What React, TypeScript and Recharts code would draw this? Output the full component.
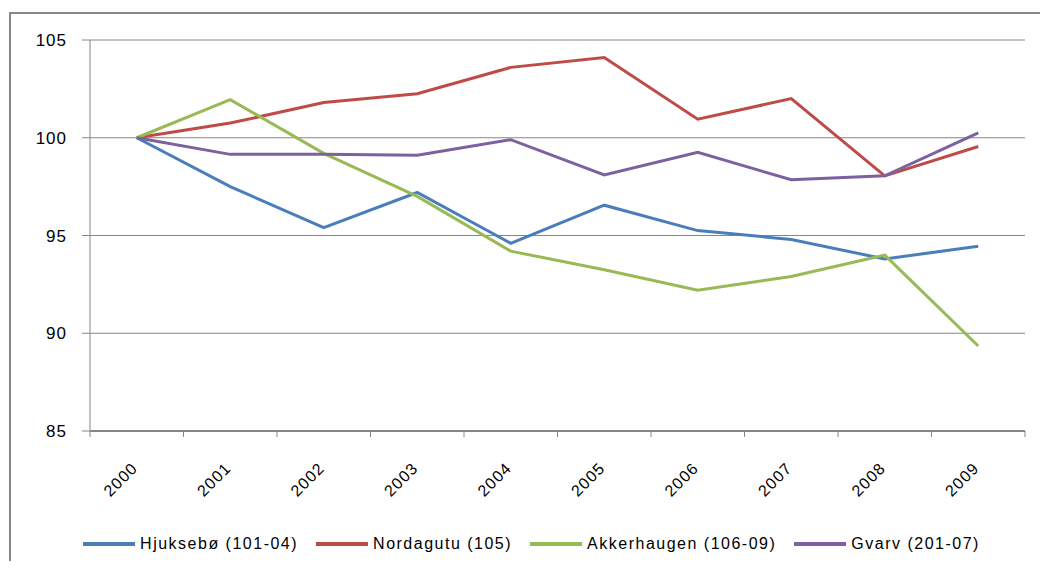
import React from "react";
import {
  LineChart,
  Line,
  XAxis,
  YAxis,
  CartesianGrid,
  Legend,
} from "recharts";

const years = ["2000", "2001", "2002", "2003", "2004", "2005", "2006", "2007", "2008", "2009"];
const hjuksebo = [100, 97.5, 95.4, 97.2, 94.6, 96.55, 95.25, 94.8, 93.8, 94.45];
const nordagutu = [100, 100.75, 101.8, 102.25, 103.6, 104.1, 100.95, 102.0, 98.05, 99.55];
const akkerhaugen = [100, 101.95, 99.2, 97.0, 94.2, 93.25, 92.2, 92.9, 94.0, 89.35];
const gvarv = [100, 99.15, 99.15, 99.1, 99.9, 98.1, 99.25, 97.85, 98.05, 100.25];
const yTicks = [85, 90, 95, 100, 105];

const series = [
  { key: "hjuksebo", name: "Hjuksebø (101-04)", color: "#4A7EBB", values: hjuksebo },
  { key: "nordagutu", name: "Nordagutu (105)", color: "#BE4B48", values: nordagutu },
  { key: "akkerhaugen", name: "Akkerhaugen (106-09)", color: "#98B954", values: akkerhaugen },
  { key: "gvarv", name: "Gvarv (201-07)", color: "#7D60A0", values: gvarv },
];

const data = years.map((year, i) => {
  const row: Record<string, string | number> = { year };
  series.forEach((s) => {
    row[s.key] = s.values[i];
  });
  return row;
});

const FONT = "'Liberation Sans', Arial, sans-serif";
const GRAY = "#868686";

// label rotated -45deg plus the little tick marks at the band edges
const YearTick = (props: any) => {
  const { x, y, payload, index, visibleTicksCount } = props;
  const half = payload.offset || 0;
  const last = index === (visibleTicksCount ?? years.length) - 1;
  return (
    <g>
      <line x1={x - half} y1={y} x2={x - half} y2={y + 6} stroke={GRAY} />
      {last && <line x1={x + half} y1={y} x2={x + half} y2={y + 6} stroke={GRAY} />}
      <g transform={`translate(${x + 2},${y + 38})`}>
        <text
          textAnchor="end"
          transform="rotate(-45)"
          fontSize={16}
          fontFamily={FONT}
          letterSpacing={1.2}
          fill="#000"
        >
          {payload.value}
        </text>
      </g>
    </g>
  );
};

const LegendRow = () => (
  <div
    style={{
      display: "flex",
      justifyContent: "center",
      alignItems: "center",
      gap: 18,
      fontFamily: FONT,
      fontSize: 16,
      letterSpacing: 1.5,
      color: "#000",
      height: 24,
      paddingLeft: 38,
    }}
  >
    {series.map((s) => (
      <div key={s.key} style={{ display: "flex", alignItems: "center", gap: 5 }}>
        <span style={{ display: "inline-block", width: 52, height: 4, background: s.color }} />
        <span>{s.name}</span>
      </div>
    ))}
  </div>
);

export default function App() {
  return (
    <div
      style={{
        position: "relative",
        width: 1048,
        height: 569,
        margin: -8,
        overflow: "hidden",
        background: "#fff",
      }}
    >
      <div
        style={{
          position: "absolute",
          left: 9,
          top: 12,
          width: 1100,
          height: 620,
          border: `2px solid ${GRAY}`,
          boxSizing: "border-box",
        }}
      />
      <LineChart
        width={1048}
        height={569}
        data={data}
        margin={{ top: 40, right: 23, left: 0, bottom: 13 }}
        style={{ position: "absolute", left: 0, top: 0 }}
      >
        <CartesianGrid vertical={false} stroke={GRAY} horizontalValues={yTicks} />
        <XAxis
          dataKey="year"
          type="category"
          scale="band"
          interval={0}
          axisLine={{ stroke: GRAY, strokeWidth: 2 }}
          tickLine={false}
          tickSize={0}
          tickMargin={0}
          height={101}
          tick={<YearTick />}
        />
        <YAxis
          type="number"
          domain={[85, 105]}
          ticks={yTicks}
          width={90}
          tickSize={8}
          tickMargin={15}
          axisLine={{ stroke: GRAY }}
          tickLine={{ stroke: GRAY }}
          tick={{ fill: "#000", fontSize: 17, fontFamily: FONT, letterSpacing: 1 }}
        />
        <Legend verticalAlign="bottom" content={<LegendRow />} />
        {series.map((s) => (
          <Line
            key={s.key}
            dataKey={s.key}
            name={s.name}
            stroke={s.color}
            strokeWidth={3}
            dot={false}
            type="linear"
            isAnimationActive={false}
          />
        ))}
      </LineChart>
    </div>
  );
}
